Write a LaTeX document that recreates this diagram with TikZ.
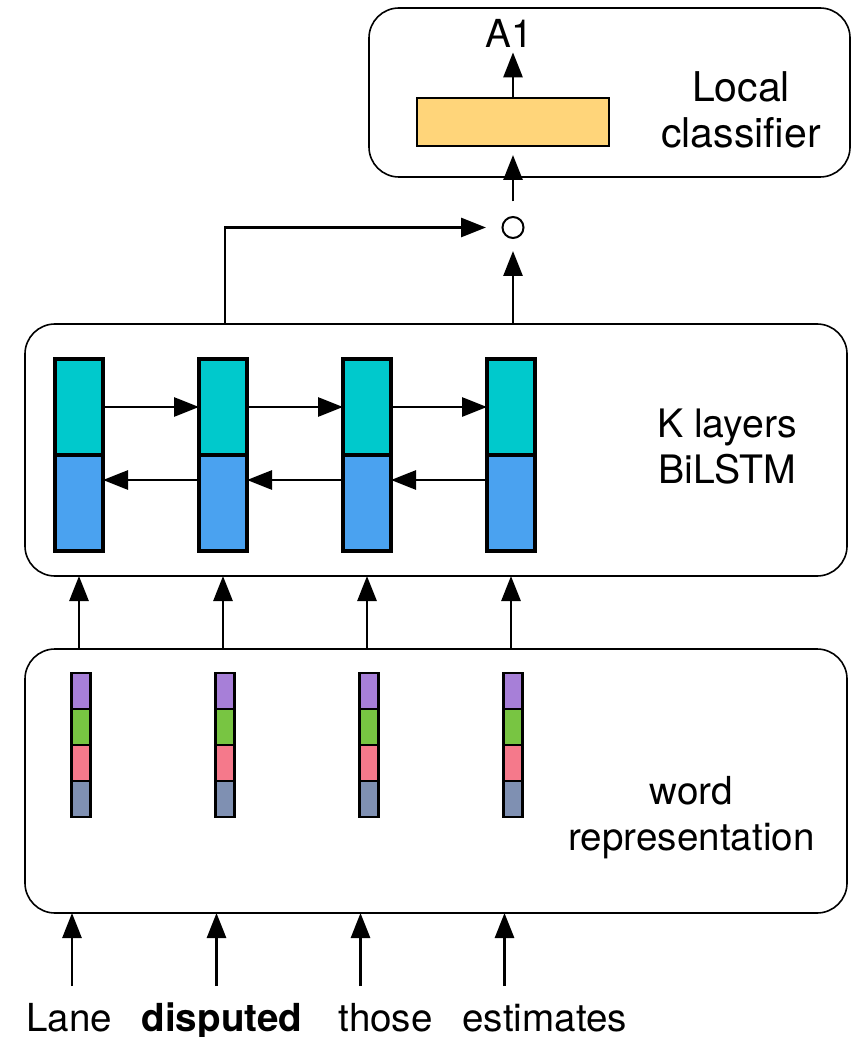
\documentclass[tikz,border=0pt]{standalone}
\usepackage{fontspec}
\setmainfont{TeX Gyre Heros}
\usetikzlibrary{arrows.meta}
\definecolor{cyanc}{RGB}{0,201,204}
\definecolor{bluec}{RGB}{74,162,240}
\definecolor{yellowc}{RGB}{255,213,122}
\definecolor{purplec}{RGB}{167,127,216}
\definecolor{greenc}{RGB}{120,197,66}
\definecolor{pinkc}{RGB}{245,121,139}
\definecolor{slatec}{RGB}{127,144,178}
\begin{document}
\begin{tikzpicture}[x=0.5pt,y=-0.5pt,
  bigbox/.style={draw, line width=0.8pt, rounded corners=15pt, inner sep=0pt, outer sep=0pt},
  lbl/.style={font=\fontsize{19.3}{23}\selectfont, align=center, inner sep=0pt},
  arr/.style={line width=1.4pt, -{Triangle[length=12.5pt,width=9.5pt]}},
  cell/.style={draw, line width=1.6pt, minimum width=24pt, minimum height=48pt, inner sep=0pt, outer sep=0pt},
  seg/.style={draw, line width=1.4pt, minimum width=9.5pt, minimum height=18pt, inner sep=0pt, outer sep=0pt},
]
\useasboundingbox (0,0) rectangle (864,1037);
% big boxes
\node[bigbox, minimum width=240.5pt, minimum height=84.5pt] (cls) at (609.5,92.5) {};
\node[bigbox, minimum width=411pt, minimum height=126pt] (bil) at (436,450) {};
\node[bigbox, minimum width=411pt, minimum height=132pt] (wr) at (436,781) {};
% labels (base anchor = baseline of the last line)
\node[lbl, font=\fontsize{20.5}{23}\selectfont, anchor=base] (loc) at (741,148) {Local\\classifier};
\node[lbl, font=\fontsize{19.6}{23}\selectfont, anchor=base] (kl) at (727,483) {K layers\\BiLSTM};
\node[lbl, anchor=base] (wrl) at (691.5,850) {word\\representation};
\node[lbl, anchor=base] (a1) at (509,48) {A1};
% classifier
\node[draw, line width=1.2pt, fill=yellowc, minimum width=96pt, minimum height=24pt, inner sep=0pt, outer sep=0pt] (yel) at (513,122) {};
\node[circle, draw, line width=1pt, minimum size=10.5pt, inner sep=0pt] (circ) at (513,227.5) {};
% BiLSTM cells
\foreach \i in {1,...,4}{
  \node[cell, fill=cyanc] (f\i) at ({79+144*(\i-1)},407) {};
  \node[cell, fill=bluec] (b\i) at ({79+144*(\i-1)},503) {};
}
% word stacks
\foreach \i in {1,...,4}{
  \node[seg, fill=purplec] (p\i) at ({81+144*(\i-1)},691) {};
  \node[seg, fill=greenc] (g\i) at ({81+144*(\i-1)},727) {};
  \node[seg, fill=pinkc] (r\i) at ({81+144*(\i-1)},763) {};
  \node[seg, fill=slatec] (s\i) at ({81+144*(\i-1)},799) {};
}
% words
\node[lbl, anchor=base] (w1) at (69,1031) {Lane};
\node[lbl, anchor=base] (w2) at (222,1031) {\textbf{disputed}};
\node[lbl, anchor=base] (w3) at (385.6,1031) {those};
\node[lbl, anchor=base] (w4) at (544.7,1031) {estimates};
\coordinate (in1) at (72,986);
\coordinate (in2) at (216.5,986);
\coordinate (in3) at (360.5,986);
\coordinate (in4) at (504.5,986);
% arrows
\draw[arr] (yel.north) -- ([yshift=-2pt]a1.south -| yel.north);
\draw[arr, shorten <=7.25pt, shorten >=4.5pt] (circ) -- (yel);
\draw[arr, shorten >=6pt] (circ |- bil.north) -- (circ);
\draw[arr, shorten >=7.75pt] ([xshift=1pt]f2 |- bil.north) |- (circ);
\foreach \i/\j in {1/2,2/3,3/4}{
  \draw[arr] (f\i.east) -- (f\j.west);
  \draw[arr] ([yshift=11.5pt]b\j.west) -- ([yshift=11.5pt]b\i.east);
}
\foreach \i in {1,...,4}{
  \draw[arr] (f\i |- wr.north) -- (f\i |- bil.south);
  \draw[arr] (in\i) -- (in\i |- wr.south);
}
\end{tikzpicture}
\end{document}
